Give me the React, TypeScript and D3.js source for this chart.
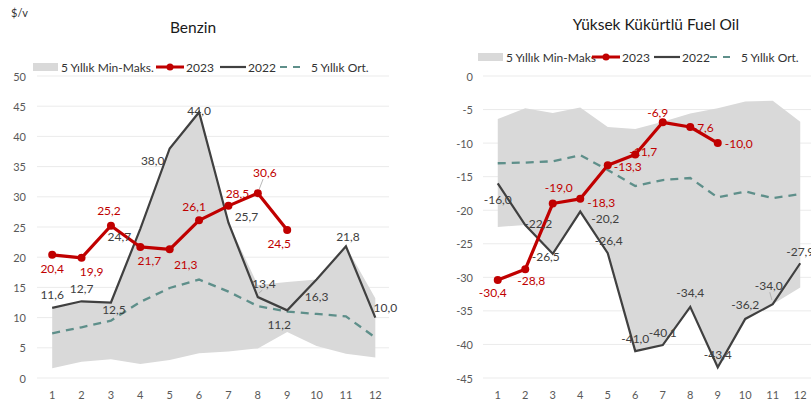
import React from 'react'
import * as d3 from 'd3'

const months = [1, 2, 3, 4, 5, 6, 7, 8, 9, 10, 11, 12]

// Benzin
const benzin2023 = [20.4, 19.9, 25.2, 21.7, 21.3, 26.1, 28.5, 30.6, 24.5]
const benzin2022 = [11.6, 12.7, 12.5, 24.7, 38.0, 44.0, 25.7, 13.4, 11.2, 16.3, 21.8, 10.0]
const benzinAvg = [7.4, 8.4, 9.5, 12.6, 14.9, 16.3, 14.3, 11.9, 11.0, 10.6, 10.2, 6.7]
const benzinMin = [1.6, 2.7, 3.1, 2.3, 3.0, 4.1, 4.4, 4.9, 7.6, 5.3, 4.0, 3.4]
const benzinMax = [11.6, 12.7, 12.5, 24.7, 38.0, 44.0, 25.7, 15.4, 15.9, 16.3, 21.8, 13.2]
const benzinTicks = [0, 5, 10, 15, 20, 25, 30, 35, 40, 45, 50]

// Yüksek Kükürtlü Fuel Oil
const fuel2023 = [-30.4, -28.8, -19.0, -18.3, -13.3, -11.7, -6.9, -7.6, -10.0]
const fuel2022 = [-16.0, -22.2, -26.5, -20.2, -26.4, -41.0, -40.1, -34.4, -43.4, -36.2, -34.0, -27.9]
const fuelAvg = [-13.0, -12.9, -12.7, -11.8, -14.0, -16.4, -15.5, -15.2, -18.1, -17.2, -18.2, -17.6]
const fuelMin = [-22.5, -22.2, -26.5, -20.2, -26.4, -41.0, -40.1, -34.4, -43.4, -36.2, -34.0, -31.5]
const fuelMax = [-6.4, -4.8, -5.5, -4.7, -7.6, -7.9, -6.8, -5.6, -4.8, -3.8, -3.7, -6.8]
const fuelTicks = [0, -5, -10, -15, -20, -25, -30, -35, -40, -45]

// label offsets [dx, dy] from the point, excel style placement
const benzin23Off = [[0, 14], [10, 14], [-2, -15], [9, 14], [16, 15], [-5, -14], [9, -12], [7, -21], [-8, 13]]
const benzin22Off = [[0, -13], [0, -13], [3, 7], [-21, 8], [-17, 12], [0, -2], [18, -6], [6, -14], [-8, 14], [0, 17], [2, -10], [10, -10]]
const fuel23Off = [[-5, 12], [6, 11], [6, -16], [21, 4], [20, 1], [8, -3], [-5, -10], [13, 0], [21, 0]]
const fuel22Off = [[0, 16], [13, -1], [-7, 3], [25, 7], [1, -13], [0, -13], [0, -13], [0, -14], [0, -13], [0, -14], [-4, -19], [0, -12]]

const RED = '#C00000'
const DARK = '#404040'
const TEAL = '#5E8F8A'
const BAND = '#D9D9D9'
const AXIS = '#595959'
const FONT = 'Lato, Calibri, sans-serif'

const fmt = (v: number) => v.toFixed(1).replace('.', ',')

type PanelProps = {
  title: string
  titleX: number
  titleY: number
  xRange: [number, number]
  yDomain: [number, number]
  ticks: number[]
  tickX: number
  gridX: [number, number]
  s23: number[]
  s22: number[]
  avg: number[]
  min: number[]
  max: number[]
  off23: number[][]
  off22: number[][]
  lead23: number[]
  lead22: number[]
  legendY: number
  legendX: number[]
  bandLabel: string
}

function Panel(p: PanelProps) {
  const x = d3.scaleBand<number>().domain(months).range(p.xRange)
  const cx = (m: number) => (x(m) as number) + x.bandwidth() / 2
  const y = d3.scaleLinear().domain(p.yDomain).range([378, 76])

  const area = d3
    .area<number>()
    .x((d, i) => cx(months[i]))
    .y0((d, i) => y(p.min[i]))
    .y1(d => y(d))
  const line = d3
    .line<number>()
    .x((d, i) => cx(months[i]))
    .y(d => y(d))

  const [lx0, lx1, lx2, lx3] = p.legendX

  // leader line from the label edge toward the point
  const leader = (v: number, i: number, off: number[]) => {
    const px = cx(months[i]), py = y(v)
    const sy = off[1] < 0 ? -1 : 1
    return (
      <line
        key={'l' + i + '_' + v}
        x1={px + off[0] * 0.2}
        y1={py + sy * 4}
        x2={px + off[0] * 0.75}
        y2={py + off[1] - sy * 7}
        stroke="#A6A6A6"
        strokeWidth={0.8}
      />
    )
  }

  return (
    <g fontFamily={FONT}>
      <text x={p.titleX} y={p.titleY} textAnchor="middle" dominantBaseline="central" fontSize={15.5} fill="#1a1a1a">
        {p.title}
      </text>

      {/* legend */}
      <g fontSize={12} fill={AXIS}>
        <rect x={lx0} y={p.legendY - 4} width={25} height={8} fill={BAND} />
        <text x={lx0 + 28} y={p.legendY} dominantBaseline="central" fill="#333">{p.bandLabel}</text>
        <line x1={lx1} x2={lx1 + 28} y1={p.legendY} y2={p.legendY} stroke={RED} strokeWidth={3} />
        <circle cx={lx1 + 14} cy={p.legendY} r={3.5} fill={RED} />
        <text x={lx1 + 30} y={p.legendY} dominantBaseline="central" fill="#333">2023</text>
        <line x1={lx2} x2={lx2 + 26} y1={p.legendY} y2={p.legendY} stroke={DARK} strokeWidth={2.2} />
        <text x={lx2 + 28} y={p.legendY} dominantBaseline="central" fill="#333">2022</text>
        <line x1={lx3} x2={lx3 + 24} y1={p.legendY} y2={p.legendY} stroke={TEAL} strokeWidth={2.2} strokeDasharray="7,6" />
        <text x={lx3 + 31} y={p.legendY} dominantBaseline="central" fill="#333">5 Yıllık Ort.</text>
      </g>

      {/* grid + y axis */}
      {p.ticks.map(t => (
        <g key={t}>
          <line x1={p.gridX[0]} x2={p.gridX[1]} y1={y(t)} y2={y(t)} stroke="#EBEBEB" strokeWidth={1} />
          <text x={p.tickX} y={y(t)} textAnchor="end" dominantBaseline="central" fontSize={11} fill={AXIS}>
            {t}
          </text>
        </g>
      ))}
      {months.map(m => (
        <text key={m} x={cx(m)} y={394} textAnchor="middle" dominantBaseline="central" fontSize={11} fill={AXIS}>
          {m}
        </text>
      ))}

      <path d={area(p.max) || ''} fill={BAND} />
      <path d={line(p.avg) || ''} fill="none" stroke={TEAL} strokeWidth={2.3} strokeDasharray="8,6" />
      <path d={line(p.s22) || ''} fill="none" stroke={DARK} strokeWidth={2.2} strokeLinejoin="miter" />
      <path d={line(p.s23) || ''} fill="none" stroke={RED} strokeWidth={3.2} strokeLinejoin="round" />
      {p.s23.map((v, i) => (
        <circle key={i} cx={cx(months[i])} cy={y(v)} r={4} fill={RED} />
      ))}

      {p.lead23.map(i => leader(p.s23[i], i, p.off23[i]))}
      {p.lead22.map(i => leader(p.s22[i], i, p.off22[i]))}

      {p.s22.map((v, i) => (
        <text
          key={'b' + i}
          x={cx(months[i]) + p.off22[i][0]}
          y={y(v) + p.off22[i][1]}
          textAnchor="middle"
          dominantBaseline="central"
          fontSize={12}
          fill={DARK}
        >
          {fmt(v)}
        </text>
      ))}
      {p.s23.map((v, i) => (
        <text
          key={'r' + i}
          x={cx(months[i]) + p.off23[i][0]}
          y={y(v) + p.off23[i][1]}
          textAnchor="middle"
          dominantBaseline="central"
          fontSize={12}
          fill={RED}
        >
          {fmt(v)}
        </text>
      ))}
    </g>
  )
}

export default function App() {
  return (
    <svg width={811} height={403} style={{ position: 'absolute', left: 0, top: 0, background: '#fff' }}>
      <text x={11} y={12} dominantBaseline="central" fontSize={11} fontFamily={FONT} fill="#333">
        $/v
      </text>
      <Panel
        title="Benzin"
        titleX={193}
        titleY={27}
        xRange={[37.5, 390]}
        yDomain={[0, 50]}
        ticks={benzinTicks}
        tickX={26}
        gridX={[37, 389]}
        s23={benzin2023}
        s22={benzin2022}
        avg={benzinAvg}
        min={benzinMin}
        max={benzinMax}
        off23={benzin23Off}
        off22={benzin22Off}
        lead23={[7]}
        lead22={[7]}
        legendY={67}
        legendX={[33, 156, 220, 280]}
        bandLabel="5 Yıllık Min-Maks."
      />
      <Panel
        title="Yüksek Kükürtlü Fuel Oil"
        titleX={656}
        titleY={24}
        xRange={[484, 814]}
        yDomain={[-45, 0]}
        ticks={fuelTicks}
        tickX={473}
        gridX={[483, 811]}
        s23={fuel2023}
        s22={fuel2022}
        avg={fuelAvg}
        min={fuelMin}
        max={fuelMax}
        off23={fuel23Off}
        off22={fuel22Off}
        lead23={[]}
        lead22={[10]}
        legendY={57}
        legendX={[478, 592, 654, 710]}
        bandLabel="5 Yıllık Min-Maks"
      />
    </svg>
  )
}
